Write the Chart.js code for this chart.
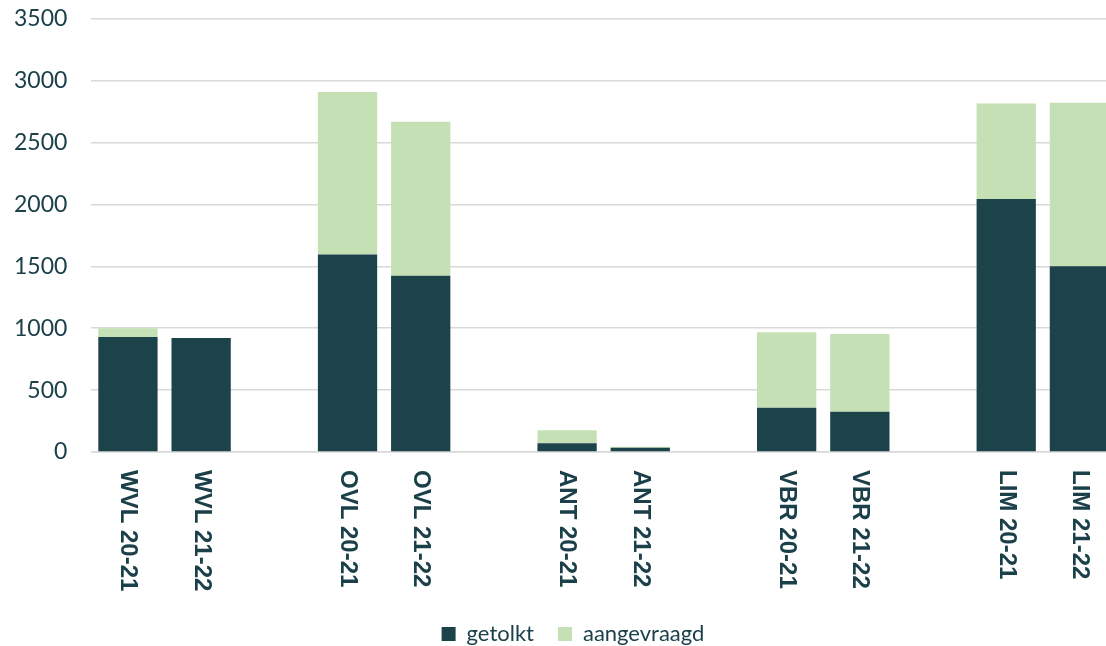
<!DOCTYPE html>
<html>
<head>
<meta charset="utf-8">
<script src="https://cdn.jsdelivr.net/npm/chart.js@4/dist/chart.umd.min.js"></script>
<style>
  html, body { margin: 0; padding: 0; background: #fff; overflow: hidden; }
  #wrap { width: 1168px; height: 674px; position: absolute; left: -22px; top: -19px; }
</style>
</head>
<body>
<div id="wrap"><canvas id="barChart"></canvas></div>
<script>
// categories (empty strings are the gaps between provinces)
const labels = [
    'WVL 20-21', 'WVL 21-22', '',
    'OVL 20-21', 'OVL 21-22', '',
    'ANT 20-21', 'ANT 21-22', '',
    'VBR 20-21', 'VBR 21-22', '',
    'LIM 20-21', 'LIM 21-22'
];
const getolkt = [930, 922, null, 1595, 1425, null, 70, 35, null, 358, 326, null, 2045, 1500];
const aangevraagd = [70, 0, null, 1313, 1243, null, 105, 8, null, 610, 628, null, 771, 1321];
const yTicks = [0, 500, 1000, 1500, 2000, 2500, 3000, 3500];

const textColor = '#1b4049';

// x labels read top to bottom, so draw them ourselves
const verticalLabels = {
    id: 'verticalLabels',
    afterLayout(chart) {
        // nudge the legend to sit where the original one does
        chart.legend.left += 20;
        chart.legend.right += 20;
    },
    afterDraw(chart) {
        const scale = chart.scales.x;
        const ctx = chart.ctx;
        ctx.save();
        ctx.fillStyle = textColor;
        ctx.font = 'bold 24px "Liberation Sans", Arial, sans-serif';
        ctx.textAlign = 'left';
        ctx.textBaseline = 'middle';
        labels.forEach((lab, i) => {
            if (!lab) return;
            const x = scale.getPixelForTick(i);
            ctx.save();
            ctx.translate(x, scale.top + 18);
            ctx.rotate(Math.PI / 2);
            ctx.fillText(lab, 0, 0);
            ctx.restore();
        });
        ctx.restore();
    }
};

const ctx = document.getElementById('barChart');

window.chart = new Chart(ctx, {
    type: 'bar',
    data: {
        labels: labels,
        datasets: [{
            label: 'getolkt',
            data: getolkt,
            backgroundColor: '#1c424a',
            borderWidth: 0
        }, {
            label: 'aangevraagd',
            data: aangevraagd,
            backgroundColor: '#c5e0b4',
            borderWidth: 0
        }]
    },
    options: {
        responsive: true,
        maintainAspectRatio: false,
        animation: false,
        layout: {
            padding: { left: 12, right: 30, top: 6, bottom: 0 }
        },
        datasets: {
            bar: { categoryPercentage: 1, barPercentage: 0.81 }
        },
        plugins: {
            legend: {
                position: 'bottom',
                labels: {
                    color: textColor,
                    font: { family: 'Lato', size: 22 },
                    boxWidth: 14,
                    boxHeight: 14,
                    padding: 24
                }
            },
            tooltip: { enabled: false }
        },
        scales: {
            x: {
                stacked: true,
                grid: { display: false },
                border: { color: '#d9d9d9', width: 1.5 },
                ticks: { display: false },
                afterFit(scale) {
                    scale.height = 147;
                }
            },
            y: {
                stacked: true,
                min: 0,
                max: 3500,
                afterBuildTicks(scale) {
                    scale.ticks = yTicks.map(v => ({ value: v }));
                },
                grid: { color: '#d9d9d9', lineWidth: 1.5, drawTicks: false },
                border: { display: false },
                ticks: {
                    color: textColor,
                    font: { family: 'Lato', size: 23 },
                    padding: 24,
                    callback: v => String(v)
                }
            }
        }
    },
    plugins: [verticalLabels]
});
</script>
</body>
</html>
